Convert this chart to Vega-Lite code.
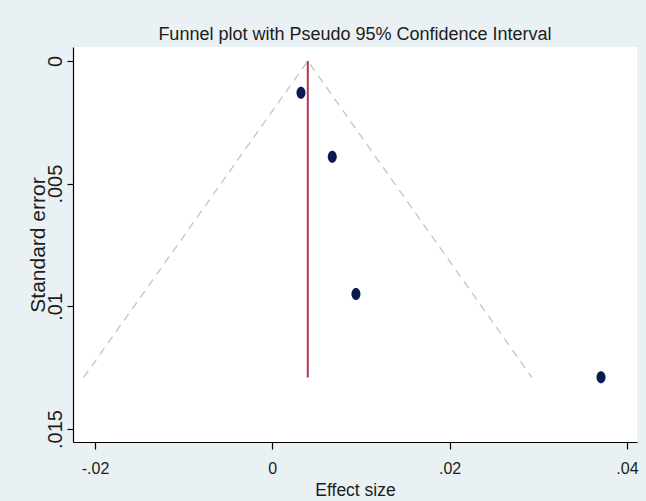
{
  "$schema": "https://vega.github.io/schema/vega-lite/v6.json",
  "autosize": "none",
  "width": 564,
  "height": 395,
  "padding": {"left": 73, "top": 47, "right": 9, "bottom": 59},
  "background": "#eaf1f4",
  "title": {
    "text": "Funnel plot with Pseudo 95% Confidence Interval",
    "font": "Liberation Sans",
    "fontSize": 18,
    "fontWeight": "normal",
    "color": "#1c1c1c",
    "anchor": "middle",
    "frame": "group",
    "baseline": "alphabetic",
    "offset": -11
  },
  "config": {
    "view": {"fill": "white", "stroke": null},
    "axis": {"grid": false, "domainColor": "#000000", "tickColor": "#000000", "labelColor": "#1c1c1c", "titleColor": "#1c1c1c", "titleFontWeight": "normal", "domainWidth": 1.2, "tickWidth": 1.2}
  },
  "datasets": {
    "studies": [
      {"effect": 0.00323, "se": 0.00129},
      {"effect": 0.00676, "se": 0.0039},
      {"effect": 0.00943, "se": 0.0095},
      {"effect": 0.03707, "se": 0.01289}
    ],
    "funnel": [
      {"effect": -0.02128, "se": 0.0129},
      {"effect": 0.004, "se": 0.0},
      {"effect": 0.02928, "se": 0.0129}
    ],
    "pooled": [
      {"effect": 0.004, "se_top": 0.0, "se_bottom": 0.0129}
    ]
  },
  "encoding": {
    "x": {
      "field": "effect",
      "type": "quantitative",
      "scale": {"domain": [-0.02248, 0.04113], "nice": false, "zero": false},
      "axis": {
        "title": "Effect size",
        "values": [-0.02, 0, 0.02, 0.04],
        "labelExpr": "datum.value == 0 ? '0' : replace(toString(datum.value), '0.', '.')",
        "labelFont": "Liberation Sans",
        "labelFontSize": 16,
        "labelPadding": 11,
        "tickSize": 7,
        "titleFont": "Liberation Sans",
        "titleFontSize": 17.5,
        "titlePadding": 5
      }
    },
    "y": {
      "field": "se",
      "type": "quantitative",
      "scale": {"domain": [-0.00057, 0.01553], "nice": false, "zero": false, "reverse": true},
      "axis": {
        "title": "Standard error",
        "values": [0, 0.005, 0.01, 0.015],
        "labelExpr": "datum.value == 0 ? '0' : replace(toString(datum.value), '0.', '.')",
        "labelAngle": -90,
        "labelAlign": "center",
        "labelBaseline": "bottom",
        "labelFont": "Liberation Sans",
        "labelFontSize": 20,
        "labelPadding": 2,
        "tickSize": 6,
        "titleFont": "Liberation Sans",
        "titleFontSize": 21,
        "titlePadding": -3
      }
    }
  },
  "layer": [
    {
      "data": {"name": "funnel"},
      "mark": {"type": "line", "color": "#c4c4c4", "strokeWidth": 1.3, "strokeDash": [8, 6]},
      "encoding": {"order": {"field": "effect", "type": "quantitative"}}
    },
    {
      "data": {"name": "pooled"},
      "mark": {"type": "rule", "color": "#b3354c", "strokeWidth": 2},
      "encoding": {
        "x": {"field": "effect", "type": "quantitative"},
        "y": {"field": "se_top", "type": "quantitative"},
        "y2": {"field": "se_bottom"}
      }
    },
    {
      "data": {"name": "studies"},
      "mark": {"type": "point", "filled": true, "opacity": 1, "color": "#0b1a4f", "size": 144, "shape": "M0,-1 A0.75,1 0 1,1 0,1 A0.75,1 0 1,1 0,-1 Z"}
    }
  ]
}
